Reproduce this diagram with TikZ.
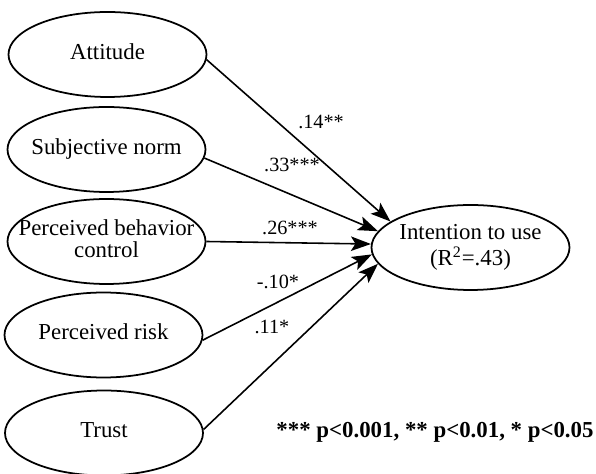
\documentclass[tikz,border=0pt]{standalone}
\usepackage{fontspec}
\setmainfont{Liberation Serif}
\usetikzlibrary{shapes.geometric,arrows.meta}
\newcommand{\stacked}[1]{\makebox[0pt]{\begin{tabular}{@{}c@{}}#1\end{tabular}}}
\begin{document}
\begin{tikzpicture}[
	construct/.style={ellipse,draw,line width=1pt,minimum width=3.96cm,minimum height=1.7cm,inner sep=0pt,font=\fontsize{13}{12}\selectfont},
	effect/.style={-{Stealth[length=4mm,width=2.9mm,inset=0.9mm]},line width=0.9pt},
	coef/.style={inner sep=0pt,font=\fontsize{11.5}{13}\selectfont}]
	\useasboundingbox (0,0) rectangle (11.92,-9.48);
	% predictors
	\node (ATT) [construct] at (2.15,-1.09) {\stacked{Attitude}};
	\node (SN) [construct] at (2.13,-2.99) {\stacked{Subjective norm}};
	\node (PBC) [construct] at (2.13,-4.83) {\stacked{Perceived behavior\\control}};
	\node (PR) [construct] at (2.07,-6.70) {\stacked{Perceived risk}};
	\node (TR) [construct] at (2.08,-8.66) {\stacked{Trust}};
	% outcome
	\node (INT) [construct,font=\fontsize{13}{14}\selectfont] at (9.41,-4.95) {\stacked{Intention to use\\(R\textsuperscript{2}=.43)}};

	\draw [effect] (ATT.-3) -- (INT.162);
	\draw [effect] (SN.-5) -- (INT.170);
	\draw [effect] (PBC.east) -- (INT.178);
	\draw [effect] (PR.-3) -- (INT.184);
	\draw [effect] (TR.2) -- (INT.190);

	\node (c1) [coef] at (6.42,-2.44) {.14**};
	\node (c2) [coef] at (5.84,-3.30) {.33***};
	\node (c3) [coef] at (5.80,-4.56) {.26***};
	\node (c4) [coef] at (5.56,-5.64) {-.10*};
	\node (c5) [coef] at (5.44,-6.54) {.11*};
	%\node at (8.70,-9.0) {};
	\node (sig) [inner sep=0pt,font=\fontsize{13}{15}\selectfont\bfseries] at (8.70,-8.64) {*** p<0.001, ** p<0.01, * p<0.05};
\end{tikzpicture}
\end{document}
